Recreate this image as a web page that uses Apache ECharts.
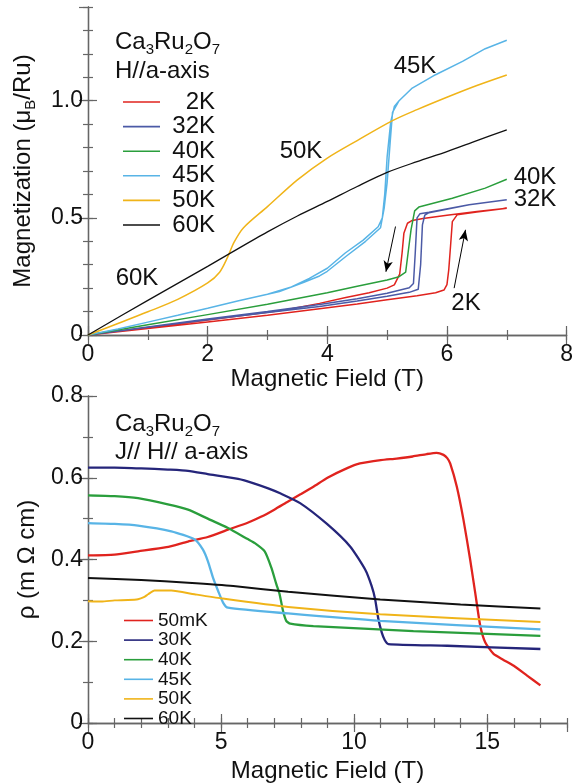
<!DOCTYPE html>
<html>
<head>
<meta charset="utf-8">
<script src="https://cdn.jsdelivr.net/npm/echarts@6/dist/echarts.min.js"></script>
<style>
html, body { margin: 0; padding: 0; background: #fff; }
#chartmain { width: 576px; height: 784px; }
</style>
</head>
<body>
<div id="chartmain"></div>
<script>
// top panel: magnetization vs field (hysteresis loops go up to 7 T and back)
var field2K = [0, 1, 2, 3, 3.87, 4.5, 5, 5.5, 5.81, 5.95, 6.0, 6.03, 6.06, 6.09, 6.17, 6.5, 7,
               6.5, 6.0, 5.6, 5.42, 5.34, 5.28, 5.25, 5.21, 5.12, 5.0, 4.7, 4.31, 3.87, 3.2, 2, 1, 0];
var mag2K = [0, 0.028, 0.056, 0.084, 0.112, 0.132, 0.15, 0.168, 0.18, 0.192, 0.215, 0.278, 0.38, 0.484, 0.513, 0.525, 0.541,
             0.527, 0.511, 0.497, 0.489, 0.477, 0.434, 0.35, 0.26, 0.214, 0.2, 0.18, 0.16, 0.135, 0.103, 0.064, 0.032, 0];
var field32K = [0, 1, 2, 3, 3.87, 4.5, 5, 5.37, 5.52, 5.56, 5.59, 5.63, 5.7, 6.37, 7,
                6.37, 5.7, 5.55, 5.5, 5.47, 5.44, 5.37, 5, 4.5, 3.87, 3, 2, 1, 0];
var mag32K = [0, 0.033, 0.065, 0.096, 0.122, 0.145, 0.165, 0.182, 0.195, 0.3, 0.47, 0.512, 0.522, 0.556, 0.577,
              0.556, 0.524, 0.518, 0.5, 0.35, 0.22, 0.202, 0.178, 0.155, 0.13, 0.1, 0.068, 0.034, 0];
var field40K = [0, 1, 2, 3, 4, 4.5, 5, 5.2, 5.31, 5.35, 5.4, 5.46, 5.53, 6.09, 6.64, 7];
var mag40K = [0, 0.044, 0.087, 0.131, 0.18, 0.208, 0.235, 0.249, 0.268, 0.35, 0.45, 0.53, 0.546, 0.584, 0.627, 0.665];
var field45K = [0, 0.5, 1, 1.5, 2, 2.5, 3, 3.2, 3.61, 3.87, 4, 4.31, 4.64, 4.89, 4.95, 5, 5.05, 5.09, 5.2, 5.42, 5.81, 6.26, 6.64, 7,
                6.64, 6.26, 5.81, 5.42, 5.2, 5.12, 5.06, 5.0, 4.96, 4.92, 4.85, 4.6, 4.3, 4.0, 3.7, 3.4, 3.0, 2.5, 2, 1.5, 1, 0.5, 0];
var mag45K = [0, 0.026, 0.055, 0.084, 0.114, 0.145, 0.174, 0.186, 0.225, 0.252, 0.272, 0.335, 0.4, 0.458, 0.54, 0.65, 0.82, 0.95, 1.0, 1.054, 1.111, 1.168, 1.222, 1.258,
              1.222, 1.168, 1.111, 1.054, 1.0, 0.975, 0.91, 0.76, 0.6, 0.5, 0.462, 0.405, 0.35, 0.285, 0.242, 0.205, 0.174, 0.145, 0.114, 0.084, 0.055, 0.026, 0];
var field50K = [0, 0.5, 1, 1.5, 2, 2.2, 2.33, 2.44, 2.6, 3, 3.5, 4, 4.5, 5.09, 5.5, 6.03, 6.5, 7];
var mag50K = [0, 0.049, 0.099, 0.152, 0.222, 0.268, 0.33, 0.395, 0.458, 0.548, 0.662, 0.755, 0.83, 0.915, 0.962, 1.018, 1.065, 1.11];
var field60K = [0, 1, 2, 2.33, 3, 3.5, 4, 4.5, 5, 5.5, 6, 6.5, 7];
var mag60K = [0, 0.148, 0.293, 0.342, 0.44, 0.508, 0.57, 0.634, 0.694, 0.74, 0.783, 0.83, 0.876];

// arrows [x0, y0, x1, y1] in data units, head at the second point
var arrowDown = [5.14, 0.463, 4.98, 0.27];
var arrowUp = [6.12, 0.2, 6.31, 0.449];

// bottom panel: resistivity vs field
var rField50mK = [0, 1, 1.88, 2.95, 3.76, 4.5, 5.26, 6, 6.52, 7, 7.52, 8, 8.47, 9, 9.72, 10.22, 11, 11.6, 12.2, 12.73,
                  13.1, 13.36, 13.5, 13.61, 13.86, 14.11, 14.36, 14.55, 14.74, 14.93, 15.24, 15.6, 16, 16.5, 17];
var rho50mK = [0.41, 0.412, 0.42, 0.43, 0.444, 0.455, 0.473, 0.49, 0.505, 0.522, 0.542, 0.56, 0.578, 0.6, 0.623, 0.635, 0.643, 0.647, 0.652, 0.658,
               0.661, 0.656, 0.648, 0.635, 0.578, 0.497, 0.4, 0.319, 0.238, 0.197, 0.169, 0.155, 0.14, 0.116, 0.092];
var rField30K = [0, 1, 2, 3, 3.76, 4.5, 5.64, 6.2, 6.77, 7.22, 7.97, 8.98, 9.85, 10.41, 10.66, 10.79, 10.91, 11.04, 11.15, 11.29, 13.5, 17];
var rho30K = [0.625, 0.625, 0.623, 0.62, 0.617, 0.609, 0.597, 0.587, 0.574, 0.562, 0.538, 0.487, 0.432, 0.376, 0.335, 0.303, 0.255, 0.221, 0.203, 0.193, 0.189, 0.181];
var rField40K = [0, 1, 1.88, 3, 3.76, 4.5, 5.26, 6, 6.27, 6.64, 6.89, 7.08, 7.2, 7.33, 7.45, 7.6, 8.47, 12.23, 17];
var rho40K = [0.557, 0.555, 0.55, 0.535, 0.522, 0.5, 0.477, 0.45, 0.44, 0.42, 0.38, 0.339, 0.315, 0.274, 0.25, 0.243, 0.237, 0.225, 0.213];
var rField45K = [0, 1, 1.88, 3.13, 4.01, 4.32, 4.51, 4.7, 4.89, 5.08, 5.26, 7.52, 10.98, 17];
var rho45K = [0.489, 0.487, 0.483, 0.469, 0.449, 0.424, 0.395, 0.355, 0.323, 0.294, 0.282, 0.268, 0.25, 0.229];
var rField50K = [0, 0.5, 1, 1.5, 1.88, 2.1, 2.26, 2.5, 3.13, 4, 5.01, 7.52, 10.98, 17];
var rho50K = [0.298, 0.297, 0.3, 0.301, 0.303, 0.308, 0.315, 0.324, 0.324, 0.315, 0.305, 0.284, 0.266, 0.247];
var rField60K = [0, 2, 3.76, 5.46, 7.52, 10.98, 14, 17];
var rho60K = [0.355, 0.35, 0.343, 0.335, 0.321, 0.302, 0.29, 0.28];

var topLegend = ['2K', '32K', '40K', '45K', '50K', '60K'];
var bottomLegend = ['50mK', '30K', '40K', '45K', '50K', '60K'];

var FONT = 'Liberation Sans, Arial, Helvetica, sans-serif';
var FRAME = '#666';

function pair(xs, ys) {
    return xs.map(function (x, i) { return [x, ys[i]]; });
}
function tickFmt(v) {
    return v === 0 ? '0' : v.toFixed(1);
}

// each side of a frame = one axis with long ticks + one with short ticks
function frameAxes(grid, pos, min, max, major, minor, extra) {
    var base = {
        gridIndex: grid, type: 'value', position: pos, min: min, max: max,
        splitLine: { show: false }
    };
    var a = Object.assign({}, base, {
        interval: major,
        axisLine: { show: true, lineStyle: { color: FRAME, width: 1.3 } },
        axisTick: { show: true, inside: true, length: 9, lineStyle: { color: FRAME, width: 1.2 } },
        axisLabel: { show: false }
    }, extra || {});
    var b = Object.assign({}, base, {
        interval: minor,
        axisLine: { show: false },
        axisTick: { show: true, inside: true, length: 5, lineStyle: { color: FRAME, width: 1.2 } },
        axisLabel: { show: false }
    });
    return [a, b];
}

var labelStyle = { show: true, color: '#111', fontSize: 23, fontFamily: FONT, formatter: tickFmt };

var xAxes = [].concat(
    frameAxes(0, 'bottom', 0, 8, 2, 1, {
        axisLabel: { show: true, color: '#111', fontSize: 23, fontFamily: FONT, margin: 8 },
        name: 'Magnetic Field (T)', nameLocation: 'middle', nameGap: 28,
        nameTextStyle: { color: '#111', fontSize: 24, fontFamily: FONT }
    }),
    frameAxes(0, 'top', 0, 8, 2, 1),
    frameAxes(1, 'bottom', 0, 18, 5, 1, {
        axisLabel: { show: true, color: '#111', fontSize: 23, fontFamily: FONT, margin: 8, showMaxLabel: false },
        name: 'Magnetic Field (T)', nameLocation: 'middle', nameGap: 36,
        nameTextStyle: { color: '#111', fontSize: 24, fontFamily: FONT }
    }),
    frameAxes(1, 'top', 0, 18, 5, 1)
);

var yAxes = [].concat(
    frameAxes(0, 'left', 0, 1.4, 0.5, 0.1, {
        axisLabel: Object.assign({}, labelStyle, { margin: 5, showMaxLabel: false }),
        name: '{n|Magnetization (μ}{s|B}{n|/Ru)}', nameLocation: 'middle', nameGap: 50,
        nameTextStyle: {
            color: '#111', fontSize: 24, fontFamily: FONT,
            rich: {
                n: { fontSize: 24, fontFamily: FONT, color: '#111', lineHeight: 30 },
                s: { fontSize: 15, fontFamily: FONT, color: '#111', lineHeight: 15, verticalAlign: 'bottom' }
            }
        }
    }),
    frameAxes(0, 'right', 0, 1.4, 0.5, 0.1),
    frameAxes(1, 'left', 0, 0.8, 0.2, 0.1, {
        axisLabel: Object.assign({}, labelStyle, { margin: 5 }),
        name: 'ρ (m Ω cm)', nameLocation: 'middle', nameGap: 49,
        nameTextStyle: { color: '#111', fontSize: 24, fontFamily: FONT }
    }),
    frameAxes(1, 'right', 0, 0.8, 0.2, 0.1)
);

function curve(name, xs, ys, color, panel, width, smooth) {
    return {
        name: name, type: 'line',
        xAxisIndex: panel === 0 ? 0 : 4, yAxisIndex: panel === 0 ? 0 : 4,
        data: pair(xs, ys), symbol: 'none', smooth: smooth || false,
        lineStyle: { color: color, width: width }, itemStyle: { color: color },
        z: 3
    };
}

var RED = '#e0231e', BLUE = '#4b5aa6', NAVY = '#25257a', GREEN = '#2a9e3c',
    CYAN = '#58b4e6', YELLOW = '#f0b419', BLACK = '#111';

var series = [
    curve('2K', field2K, mag2K, RED, 0, 1.5),
    curve('32K', field32K, mag32K, BLUE, 0, 1.5),
    curve('40K', field40K, mag40K, GREEN, 0, 1.5),
    curve('45K', field45K, mag45K, CYAN, 0, 1.5),
    curve('50K', field50K, mag50K, YELLOW, 0, 1.5, 0.3),
    curve('60K', field60K, mag60K, BLACK, 0, 1.3, 0.3),
    curve('50mK', rField50mK, rho50mK, RED, 1, 2.3, 0.2),
    curve('30K', rField30K, rho30K, NAVY, 1, 2.3, 0.2),
    curve('40K', rField40K, rho40K, GREEN, 1, 2.3, 0.2),
    curve('45K', rField45K, rho45K, CYAN, 1, 2.3, 0.2),
    curve('50K', rField50K, rho50K, YELLOW, 1, 2.0, 0.2),
    curve('60K', rField60K, rho60K, BLACK, 1, 2.0, 0.2)
];

series[5].markLine = {
    silent: true, symbol: ['none', 'arrow'], symbolSize: [7, 11],
    lineStyle: { color: '#000', width: 1, type: 'solid' },
    label: { show: false }, emphasis: { disabled: true },
    data: [arrowDown, arrowUp].map(function (a) {
        return [{ coord: [a[0], a[1]] }, { coord: [a[2], a[3]] }];
    })
};

var chemRich = {
    n: { fontSize: 24, fontFamily: FONT, fill: '#111', lineHeight: 30 },
    s: { fontSize: 15, fontFamily: FONT, fill: '#111', lineHeight: 15, verticalAlign: 'bottom' }
};
function txt(x, y, s, align, size) {
    return {
        type: 'text', x: x, y: y, z: 10,
        style: { text: s, fill: '#111', fontSize: size || 24, fontFamily: FONT,
                 align: align || 'left', verticalAlign: 'middle' }
    };
}

var graphics = [
    { type: 'text', x: 115, y: 42, z: 10, style: { text: '{n|Ca}{s|3}{n|Ru}{s|2}{n|O}{s|7}', rich: chemRich, verticalAlign: 'middle' } },
    txt(115, 71, 'H//a-axis'),
    txt(137, 278, '60K', 'center'),
    txt(301, 151, '50K', 'center'),
    txt(415, 66, '45K', 'center'),
    txt(535, 177, '40K', 'center'),
    txt(535, 199, '32K', 'center'),
    txt(466, 303, '2K', 'center'),
    { type: 'text', x: 115, y: 424, z: 10, style: { text: '{n|Ca}{s|3}{n|Ru}{s|2}{n|O}{s|7}', rich: chemRich, verticalAlign: 'middle' } },
    txt(115, 452, 'J// H// a-axis')
];

var option = {
    animation: false,
    backgroundColor: '#fff',
    textStyle: { fontFamily: FONT },
    grid: [
        { left: 88, top: 7, width: 479, height: 328 },
        { left: 88, top: 396, width: 479, height: 328 }
    ],
    legend: [{
        data: topLegend, orient: 'vertical', left: 118, top: 85,
        icon: 'rect', itemWidth: 37, itemHeight: 1.6, itemGap: 0.6, selectedMode: false,
        formatter: function (n) { return '{r|' + n + '}'; },
        textStyle: {
            color: '#111', fontFamily: FONT, fontSize: 24,
            rich: { r: { width: 50, align: 'right', fontSize: 24, fontFamily: FONT, lineHeight: 24 } }
        }
    }, {
        data: bottomLegend, orient: 'vertical', left: 119, top: 606,
        icon: 'rect', itemWidth: 29, itemHeight: 1.6, itemGap: 0.6, selectedMode: false,
        textStyle: { color: '#111', fontFamily: FONT, fontSize: 19, lineHeight: 19 }
    }],
    xAxis: xAxes,
    yAxis: yAxes,
    series: series,
    graphic: graphics
};

var myChart = echarts.init(document.getElementById('chartmain'));
myChart.setOption(option);
</script>
</body>
</html>
